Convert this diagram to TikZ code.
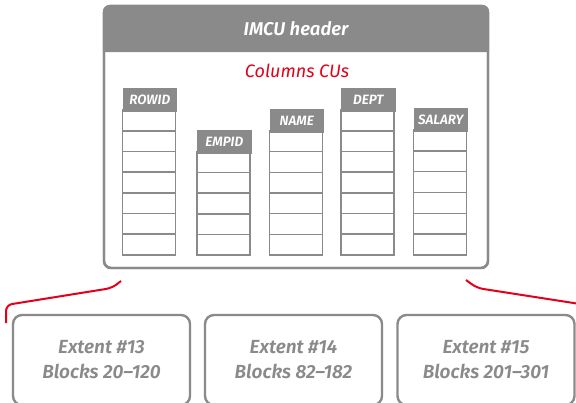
\documentclass[tikz,border=0pt]{standalone}
\usepackage{fontspec}
\setmainfont{Fira Sans}[BoldFont={Fira Sans SemiBold}, BoldItalicFont={Fira Sans SemiBold Italic}]
\begin{document}
\begin{tikzpicture}[x=1pt,y=-1pt,
  frameline/.style={draw=frame, line width=2.4pt},
  colhead/.style={fill=frame, draw=frame, line width=1.6pt, minimum width=53pt, minimum height=22pt,
    inner sep=0pt, anchor=north west, text=white, font=\fontsize{13.5}{15}\selectfont\bfseries\itshape},
  cellbox/.style={draw=frame, line width=1.6pt, fill=white},
  extentbox/.style={frameline, rounded corners=9pt, minimum width=177pt, minimum height=90pt,
    inner sep=0pt, align=center, text=frame,
    font=\fontsize{19}{25}\selectfont\bfseries\itshape},
  link/.style={draw=accent, line width=2pt, rounded corners=6pt}]
\definecolor{frame}{HTML}{8A8A8A}
\definecolor{accent}{HTML}{E2001A}
\useasboundingbox (0,0) rectangle (576,402);

% IMCU container with its header band
\node[frameline, fill=white, rounded corners=7pt, minimum width=384pt, minimum height=262pt, inner sep=0pt]
  (imcu) at (296,137) {};
\fill[frame] (imcu.west |- 0,52) [rounded corners=7pt] -- (imcu.north west) -- (imcu.north east)
  [sharp corners] -- (imcu.east |- 0,52) -- cycle;
\node[frameline, fill=none, rounded corners=7pt, minimum width=384pt, minimum height=262pt, inner sep=0pt]
  at (imcu.center) {};
\node[text=white, font=\fontsize{18.5}{20}\selectfont\bfseries\itshape] (hdr) at (296,29) {IMCU header};
\node[text=accent, font=\fontsize{18}{20}\selectfont\itshape] (cus) at (297,71) {Columns CUs};

% column CUs: header plus a stack of cells down to y = 255
\foreach \nm/\x/\t/\n in {ROWID/122.5/88/7, EMPID/197/130/5, NAME/269.5/109/6, DEPT/341/88/7, SALARY/413.5/108/6} {
  \pgfmathsetmacro{\ch}{(255-\t-22)/\n}
  \foreach \i in {1,...,\n} {
    \pgfmathsetmacro{\yy}{\t+22+(\i-1)*\ch}
    \draw[cellbox] (\x,\yy) rectangle ++(53,\ch);
  }
  \node[colhead] (h-\nm) at (\x,\t) {\nm};
}

% extents
\node[extentbox] (e13) at (101.5,360) {Extent \#13\\Blocks 20–120};
\node[extentbox] (e14) at (293.5,360) {Extent \#14\\Blocks 82–182};
\node[extentbox] (e15) at (486,360) {Extent \#15\\Blocks 201–301};

% brackets from the IMCU down to the extents
\coordinate (la) at (121,281);
\coordinate (lb) at (112,288);
\coordinate (lc) at (6,305);
\coordinate (ld) at (6,323);
\coordinate (ra) at (466,280);
\coordinate (rb) at (477,288);
\coordinate (rc) at (580,304);
\draw[link] (la) -- (lb) -- (lc) -- (ld);
\draw[link] (ra) -- (rb) -- (rc);
\end{tikzpicture}
\end{document}
